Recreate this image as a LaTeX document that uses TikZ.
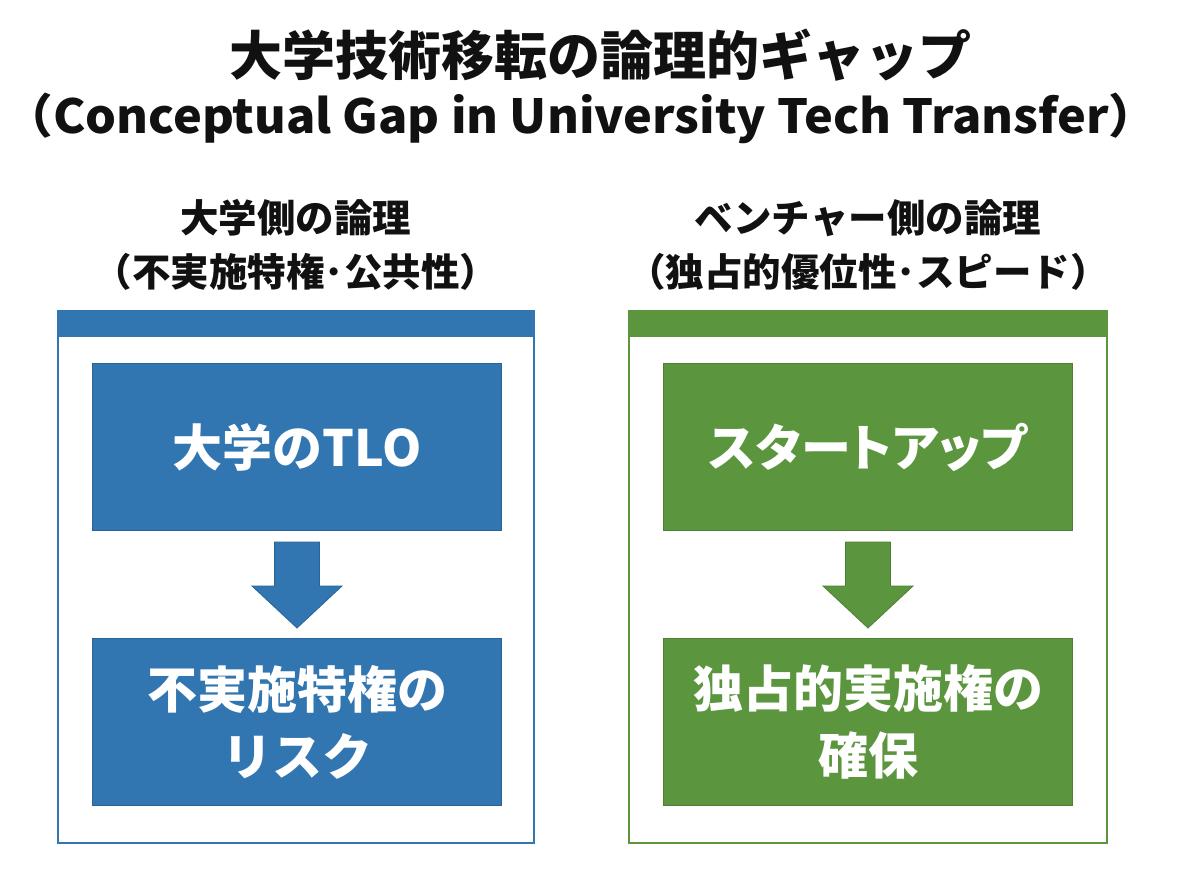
\documentclass[tikz,border=0pt]{standalone}
\usepackage{fontspec}
\setmainfont{Noto Sans CJK JP}
\usetikzlibrary{calc}
\definecolor{uniblue}{HTML}{3276B1}
\definecolor{vengreen}{HTML}{5B963E}
\definecolor{ink}{HTML}{111111}
\begin{document}
\begin{tikzpicture}[x=1pt,y=-1pt,
  panel/.style={draw=#1, line width=1.5pt},
  bar/.style={fill=#1, draw=none},
  card/.style={fill=#1, draw=#1!85!black, line width=1pt, minimum width=409pt, minimum height=167pt,
    anchor=north west, inner sep=0pt, text=white, font=\fontsize{50}{67}\selectfont\bfseries, align=center},
  blockarrow/.style={fill=#1, draw=#1!85!black, line width=0.8pt},
  heading/.style={text=ink, font=\fontsize{38.5}{54}\selectfont\bfseries, align=center, inner sep=0pt}
]
\useasboundingbox (0,0) rectangle (1200,896);
\fill[white] (0,0) rectangle (1200,896);

% titles
\node[text=ink, font=\fontsize{53}{60}\selectfont\bfseries, inner sep=0pt] (title) at (600,55) {大学技術移転の論理的ギャップ};
\node[text=ink, font=\fontsize{47}{56}\selectfont\bfseries, inner sep=0pt] (subtitle) at (581,118) {\scalebox{1.035}[1]{（Conceptual Gap in University Tech Transfer）}};

% column headings
\node[heading] (lh) at (296,245) {大学側の論理\\（不実施特権･公共性）};
\node[heading] (rh) at (868,245) {ベンチャー側の論理\\（独占的優位性･スピード）};

% left panel
\draw[panel=uniblue] (58,311) rectangle (534,843);
\fill[bar=uniblue] (58,311) rectangle (534,337);
\node[card=uniblue] (l1) at (92,363) {大学のTLO};
\node[card=uniblue] (l2) at (92,638) {不実施特権の\\リスク};
\draw[blockarrow=uniblue]
  ($(l1.south)+(-22.5,11)$) -- ($(l1.south)+(22.5,11)$) -- ($(l1.south)+(22.5,55)$)
  -- ($(l1.south)+(45,55)$) -- ($(l2.north)+(0,-10)$) -- ($(l1.south)+(-45,55)$)
  -- ($(l1.south)+(-22.5,55)$) -- cycle;

% right panel
\draw[panel=vengreen] (629,311) rectangle (1107,843);
\fill[bar=vengreen] (629,311) rectangle (1107,337);
\node[card=vengreen] (r1) at (663,363) {\addfontfeatures{RawFeature=+palt}スタートアップ};
\node[card=vengreen] (r2) at (663,638) {独占的実施権の\\確保};
\draw[blockarrow=vengreen]
  ($(r1.south)+(-22.5,11)$) -- ($(r1.south)+(22.5,11)$) -- ($(r1.south)+(22.5,55)$)
  -- ($(r1.south)+(45,55)$) -- ($(r2.north)+(0,-10)$) -- ($(r1.south)+(-45,55)$)
  -- ($(r1.south)+(-22.5,55)$) -- cycle;
\end{tikzpicture}
\end{document}
